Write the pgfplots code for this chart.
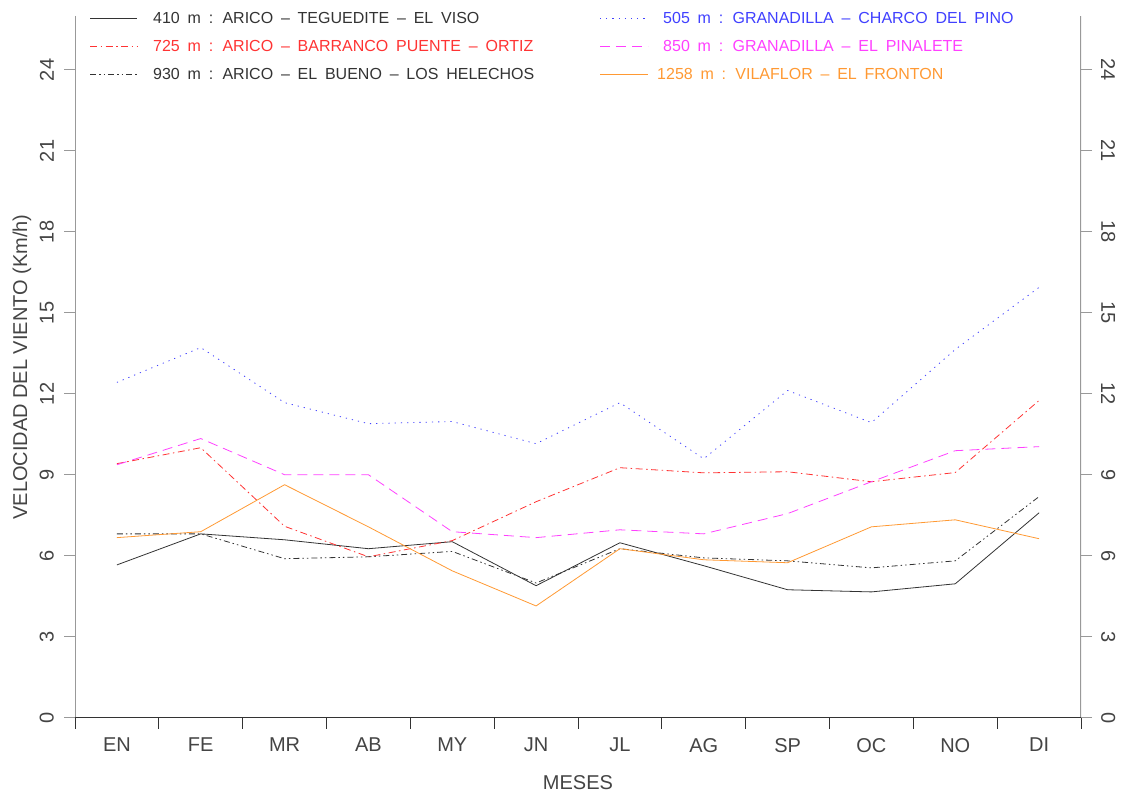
\documentclass[border=0pt]{standalone}
\usepackage{pgfplots}
\usepackage{pgfplotstable}
\pgfplotsset{compat=1.18}
\usepackage{fontspec}
\setmainfont{Liberation Sans}
\definecolor{c410}{HTML}{333333}
\definecolor{c505}{HTML}{4040FF}
\definecolor{c725}{HTML}{FF3333}
\definecolor{c850}{HTML}{FF40FF}
\definecolor{c930}{HTML}{333333}
\definecolor{c1258}{HTML}{FF9933}
\definecolor{axgray}{HTML}{999999}
\definecolor{txt}{HTML}{444444}
\newcommand{\tickfont}{\fontsize{20}{24}\selectfont}
\newcommand{\legfont}{\fontsize{16}{19}\selectfont\spaceskip=7.8pt\relax}

\pgfplotstableread{
m s410 s505 s725 s850 s930 s1258
1 5.67 12.43 9.42 9.38 6.82 6.68
2 6.82 13.72 10.01 10.35 6.82 6.90
3 6.60 11.68 7.10 9.01 5.90 8.64
4 6.27 10.90 5.97 9.01 5.97 7.08
5 6.53 10.98 6.57 6.90 6.17 5.45
6 4.90 10.16 8.01 6.68 5.00 4.15
7 6.49 11.68 9.27 6.97 6.27 6.27
8 5.64 9.60 9.08 6.82 5.93 5.86
9 4.75 12.13 9.12 7.57 5.82 5.75
10 4.67 10.94 8.75 8.75 5.56 7.08
11 4.97 13.65 9.09 9.90 5.82 7.34
12 7.60 15.95 11.76 10.05 8.20 6.64
}\data

\pgfplotsset{
  common/.style={
    at={(75pt,76pt)}, anchor=south west,
    scale only axis, width=1006pt, height=702pt,
    xmin=0.5, xmax=12.5, ymin=0, ymax=26,
    ytick={0,3,...,24},
    tick align=outside,
    major tick length=11pt,
    minor tick length=11pt,
    /pgf/number format/assume math mode=true,
    ticklabel style={font=\tickfont, text=txt},
    axis line style={draw=none},
    tick style={axgray, line width=1pt},
  }
}

\begin{document}
\begin{tikzpicture}[x=1pt,y=1pt]
\path[use as bounding box] (0,0) rectangle (1121,794);
\begin{axis}[common,
  axis lines*=left,
  xtick={1,...,12},
  xticklabels={EN,FE,MR,AB,MY,JN,JL,AG,SP,OC,NO,DI},
  major x tick style={draw=none},
  minor xtick={0.5,1.5,...,12.5},
  minor x tick style={black!80, line width=1pt},
  ytick pos=left,
  yticklabel style={rotate=90, anchor=south, inner sep=0pt, inner ysep=10pt},
  xticklabel style={anchor=north, inner sep=0pt, yshift=-9pt},
  xlabel={MESES},
  ylabel={VELOCIDAD DEL VIENTO (Km/h)},
  xlabel style={at={(axis description cs:0.5,-0.0926)}, anchor=center, font=\tickfont, text=txt},
  ylabel style={at={(axis description cs:-0.0527,0.5)}, anchor=center, rotate=0, font=\tickfont, text=txt},
  every axis plot/.append style={line width=0.8pt, mark=none},
]
\draw[axgray, line width=1.3pt] (rel axis cs:0,1) -- ([yshift=-11pt]rel axis cs:0,0);
\draw[axgray, line width=1.3pt] (rel axis cs:1,1) -- ([yshift=-11pt]rel axis cs:1,0);
\draw[black!80, line width=1pt] ([xshift=-11pt]rel axis cs:0,0) -- ([xshift=11pt]rel axis cs:1,0);
\addplot[c410] table[x=m,y=s410] {\data};
\addplot[c505, dash pattern=on 1.2pt off 5pt] table[x=m,y=s505] {\data};
\addplot[c725, dash pattern=on 7pt off 3.5pt on 1.5pt off 3.5pt] table[x=m,y=s725] {\data};
\addplot[c850, dash pattern=on 10pt off 6pt] table[x=m,y=s850] {\data};
\addplot[c930, dash pattern=on 6pt off 3pt on 1.5pt off 3pt on 1.5pt off 3pt] table[x=m,y=s930] {\data};
\addplot[c1258] table[x=m,y=s1258] {\data};
\end{axis}
\begin{axis}[common,
  axis y line*=right,
  axis x line=none,
  ytick pos=right,
  yticklabel pos=right,
  yticklabel style={rotate=-90, anchor=south, inner sep=0pt, inner ysep=9pt},
]
\end{axis}
% legend
\draw[c410, line width=0.8pt] (90,776) -- (137,776);
\node[anchor=west, inner sep=0pt, text=c410, font=\legfont] at (153,776) {410 m : ARICO – TEGUEDITE – EL VISO};
\draw[c725, line width=0.8pt, dash pattern=on 7pt off 3.5pt on 1.5pt off 3.5pt] (90,748) -- (137,748);
\node[anchor=west, inner sep=0pt, text=c725, font=\legfont] at (153,748) {725 m : ARICO – BARRANCO PUENTE – ORTIZ};
\draw[c930, line width=0.8pt, dash pattern=on 6pt off 3pt on 1.5pt off 3pt on 1.5pt off 3pt] (90,720) -- (137,720);
\node[anchor=west, inner sep=0pt, text=c930, font=\legfont] at (153,720) {930 m : ARICO – EL BUENO – LOS HELECHOS};
\draw[c505, line width=0.8pt, dash pattern=on 1.2pt off 5pt] (600,776) -- (648,776);
\node[anchor=west, inner sep=0pt, text=c505, font=\legfont] at (663,776) {505 m : GRANADILLA – CHARCO DEL PINO};
\draw[c850, line width=0.8pt, dash pattern=on 10pt off 6pt] (600,748) -- (648,748);
\node[anchor=west, inner sep=0pt, text=c850, font=\legfont] at (663,748) {850 m : GRANADILLA – EL PINALETE};
\draw[c1258, line width=0.8pt] (600,720) -- (648,720);
\node[anchor=west, inner sep=0pt, text=c1258, font=\legfont] at (657,720) {1258 m : VILAFLOR – EL FRONTON};
\end{tikzpicture}
\end{document}
